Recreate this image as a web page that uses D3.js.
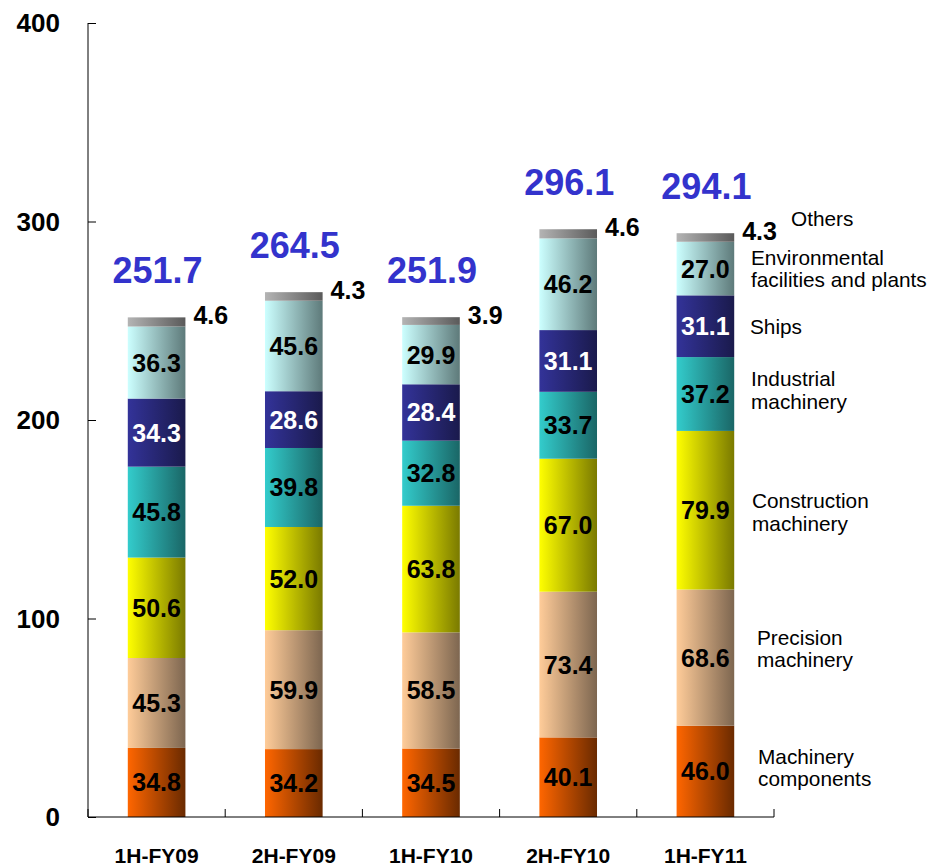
<!DOCTYPE html>
<html>
<head>
<meta charset="utf-8">
<script src="https://cdn.jsdelivr.net/npm/d3@7/dist/d3.min.js"></script>
<style>
  html, body { margin: 0; padding: 0; background: #fff; }
  svg { display: block; font-family: Arial, "Liberation Sans", sans-serif; }
</style>
</head>
<body>
<svg id="chart" width="932" height="866"></svg>
<script>
// ---- data ----
const categories = ["1H-FY09", "2H-FY09", "1H-FY10", "2H-FY10", "1H-FY11"];
const seriesNames = ["Machinery components", "Precision machinery", "Construction machinery",
  "Industrial machinery", "Ships", "Environmental facilities and plants", "Others"];
const machineryComponents = [34.8, 34.2, 34.5, 40.1, 46.0];
const precisionMachinery   = [45.3, 59.9, 58.5, 73.4, 68.6];
const constructionMachinery= [50.6, 52.0, 63.8, 67.0, 79.9];
const industrialMachinery  = [45.8, 39.8, 32.8, 33.7, 37.2];
const ships                = [34.3, 28.6, 28.4, 31.1, 31.1];
const environmental        = [36.3, 45.6, 29.9, 46.2, 27.0];
const others               = [4.6, 4.3, 3.9, 4.6, 4.3];
const totals = ["251.7", "264.5", "251.9", "296.1", "294.1"];
const yTicks = [0, 100, 200, 300, 400];
const legendLines = [
  ["Machinery", "components"],
  ["Precision", "machinery"],
  ["Construction", "machinery"],
  ["Industrial", "machinery"],
  ["Ships"],
  ["Environmental", "facilities and plants"],
  ["Others"]
];

// ---- styles ----
const seriesValues = [machineryComponents, precisionMachinery, constructionMachinery,
  industrialMachinery, ships, environmental, others];
const leftColors  = ["#ff6600", "#ffcc99", "#ffff00", "#33cccc", "#333399", "#ccffff", "#b4b4b4"];
const rightColors = ["#6a2a00", "#7d6650", "#7a7a00", "#1a6666", "#1a1a4c", "#5e7a7a", "#5a5a5a"];
const labelColors = ["#000", "#000", "#000", "#000", "#fff", "#000", "#000"];
const legendDx = [758, 757, 752, 751, 750, 751, 791];
const legendNudge = [-4, -9, 2, -4, 0, 0, -19];

const svg = d3.select("#chart");
const margin = { left: 88, right: 158, top: 23, bottom: 49 };
const W = 932, H = 866;

const x = d3.scaleBand().domain(categories)
  .range([margin.left, W - margin.right]).paddingInner(0.58).paddingOuter(0.29);
const y = d3.scaleLinear().domain([0, 400]).range([H - margin.bottom, margin.top]);

// gradients
const defs = svg.append("defs");
seriesNames.forEach((s, i) => {
  const g = defs.append("linearGradient").attr("id", "g" + i)
    .attr("x1", "0%").attr("x2", "100%").attr("y1", "0%").attr("y2", "0%");
  g.append("stop").attr("offset", "0%").attr("stop-color", leftColors[i]);
  g.append("stop").attr("offset", "100%").attr("stop-color", rightColors[i]);
});

// stacked data
const table = categories.map((c, j) => {
  const o = { cat: c };
  seriesNames.forEach((s, i) => o[s] = seriesValues[i][j]);
  return o;
});
const stack = d3.stack().keys(seriesNames)(table);

// bars
stack.forEach((layer, i) => {
  svg.append("g").selectAll("rect").data(layer).join("rect")
    .attr("x", d => x(d.data.cat))
    .attr("width", x.bandwidth())
    .attr("y", d => y(d[1]))
    .attr("height", d => y(d[0]) - y(d[1]))
    .attr("fill", `url(#g${i})`);
});

// value labels (all but Others)
stack.forEach((layer, i) => {
  if (i === 6) return;
  svg.append("g").selectAll("text").data(layer).join("text")
    .attr("x", d => x(d.data.cat) + x.bandwidth() / 2)
    .attr("y", d => y((d[0] + d[1]) / 2))
    .attr("dy", "0.36em")
    .attr("text-anchor", "middle")
    .attr("font-size", 25).attr("font-weight", "bold")
    .attr("fill", labelColors[i])
    .text(d => seriesValues[i][categories.indexOf(d.data.cat)].toFixed(1));
});

// Others labels
svg.append("g").selectAll("text").data(stack[6]).join("text")
  .attr("x", d => x(d.data.cat) + x.bandwidth() + 8)
  .attr("y", d => y(d[1]) + 7)
  .attr("font-size", 25).attr("font-weight", "bold").attr("fill", "#000")
  .text((d, j) => others[j].toFixed(1));

// totals
svg.append("g").selectAll("text").data(stack[6]).join("text")
  .attr("x", d => x(d.data.cat) + x.bandwidth() / 2 + 1)
  .attr("y", d => y(d[1]) - 34)
  .attr("text-anchor", "middle")
  .attr("font-size", 36).attr("font-weight", "bold").attr("fill", "#3333cc")
  .text((d, j) => totals[j]);

// y axis
const yAxis = svg.append("g").attr("transform", `translate(${margin.left},0)`)
  .call(d3.axisRight(y).tickValues(yTicks).tickSize(8).tickFormat(""));
yAxis.select(".domain").attr("d", `M0,${y(400)}V${y(0)}`);
yAxis.selectAll("line, path").attr("stroke", "#000");
svg.append("g").selectAll("text").data(yTicks).join("text")
  .attr("x", 60).attr("y", d => y(d)).attr("dy", "0.36em")
  .attr("text-anchor", "end").attr("font-size", 26).attr("font-weight", "bold")
  .text(d => d);

// x axis
const step = x.step();
const bounds = d3.range(categories.length + 1).map(k => margin.left + k * step);
svg.append("line").attr("x1", margin.left).attr("x2", W - margin.right)
  .attr("y1", y(0)).attr("y2", y(0)).attr("stroke", "#000");
svg.append("g").selectAll("line").data(bounds).join("line")
  .attr("x1", d => d).attr("x2", d => d)
  .attr("y1", y(0)).attr("y2", y(0) - 8).attr("stroke", "#000");
svg.append("g").selectAll("text").data(categories).join("text")
  .attr("x", d => x(d) + x.bandwidth() / 2).attr("y", y(0) + 46)
  .attr("text-anchor", "middle").attr("font-size", 21).attr("font-weight", "bold")
  .text(d => d);

// legend labels beside the last bar
const last = categories.length - 1;
stack.forEach((layer, i) => {
  const d = layer[last];
  const cy = y((d[0] + d[1]) / 2) + legendNudge[i];
  const lines = legendLines[i];
  const lh = 22.5;
  const t = svg.append("text").attr("font-size", 20.8).attr("fill", "#000");
  lines.forEach((ln, k) => {
    t.append("tspan").attr("x", legendDx[i])
      .attr("y", cy + (k - (lines.length - 1) / 2) * lh)
      .attr("dy", "0.36em").text(ln);
  });
});
</script>
</body>
</html>
